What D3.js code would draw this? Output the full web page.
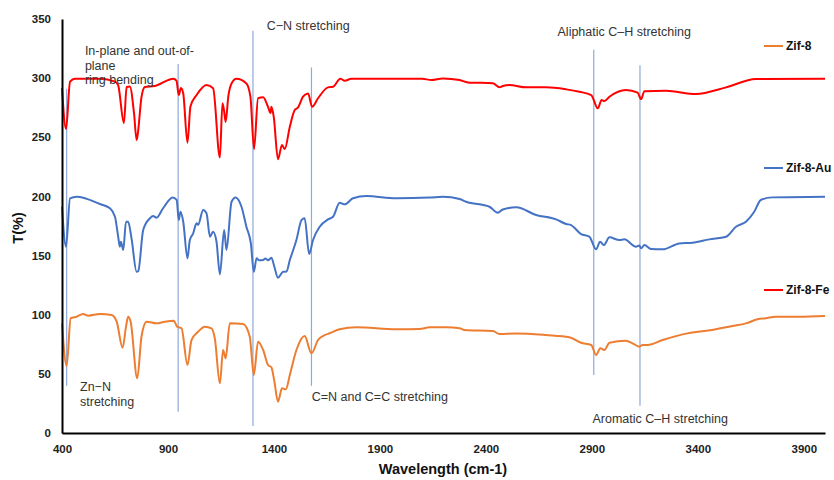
<!DOCTYPE html>
<html><head><meta charset="utf-8">
<script src="https://cdn.jsdelivr.net/npm/d3@7"></script>
<style>body{margin:0;background:#fff}svg{display:block}</style>
</head><body>
<svg id="chart" width="834" height="480"></svg>
<script>
// ---- data ----
const xTicks = [400, 900, 1400, 1900, 2400, 2900, 3400, 3900];
const yTicks = [0, 50, 100, 150, 200, 250, 300, 350];

const fe_wn = [400,419,438,461,579,650,665,692,705,720,740,752,757,775,791,838,925,940,951,961,972,992,1006,1035,1082,1113,1145,1157,1165,1172,1185,1200,1223,1270,1289,1306,1325,1349,1372,1384,1388,1399,1419,1438,1451,1475,1498,1514,1537,1561,1580,1608,1655,1679,1713,1734,1765,2100,2142,2197,2276,2315,2433,2464,2480,2511,2590,2684,2779,2841,2897,2928,2946,2959,2983,3061,3116,3132,3148,3250,3391,3533,3674,4000];
const fe_T  = [291.6,257,297,299.5,299.5,297,294,262,292.5,293,270,247.7,252,284,292.5,293.3,299.5,297.8,285.7,291.6,287,245.4,276,285.7,294.2,291.4,233,278.7,272,263,285,295.5,299.5,295.5,284.3,240,283,283.8,275.8,270.5,275.8,267.4,231.4,243.4,240,259,273,275.3,284.3,287,275.8,283,292.2,292.7,299.5,297.8,299.5,299.5,298.4,299.8,298.4,296.4,295.6,292.2,293.3,294.2,292.2,292.2,290.5,288.5,285.7,274.5,281.5,280.6,284.3,290,287.7,282.3,289,289.3,286.6,292.2,299.2,299.5];

const au_wn = [400,419,438,469,579,626,650,665,673,678,689,702,712,728,752,760,783,815,830,846,877,922,941,951,959,972,992,1003,1019,1035,1042,1066,1082,1098,1113,1129,1145,1165,1176,1200,1219,1247,1270,1291,1305,1318,1330,1349,1360,1372,1388,1401,1419,1443,1459,1475,1506,1530,1545,1566,1584,1616,1655,1679,1710,1734,1773,1836,1977,2134,2197,2276,2307,2417,2456,2480,2543,2637,2731,2779,2802,2849,2888,2920,2939,2956,2983,3030,3053,3108,3124,3132,3148,3179,3234,3313,3375,3454,3533,3580,3627,3666,3697,3752,4000];
const au_T  = [191.3,157.5,198.4,199.8,193.6,190,182.8,166,157.5,161.7,154.7,178.6,178.6,164.5,136.3,137,171.6,181.5,183.4,182,190,199.2,197,180,187,178.6,147.7,163,168.8,177.3,176,188.5,185.7,166,170.2,161.7,134.1,171.6,154.7,195.5,199.2,191.3,174.4,160.3,136.3,147.7,146,146.2,147.5,146,148.2,141.2,131.3,136.3,136.5,146.2,163.1,180,181.5,151.3,163,174.4,180.6,182.8,194.7,193.3,198.4,200.3,198.4,199,199.8,197.8,195.5,191.3,186.2,189,190.8,184.3,180.6,176.7,175.8,168.2,166,155.3,161.7,158.9,165.4,163.1,163.7,157.5,158.5,156.1,158.9,155.5,155.3,160.3,160.9,163.7,165.9,174.4,178.6,187,197,199.2,199.8];

const z8_wn = [400,422,441,469,500,524,579,634,658,686,702,712,724,755,775,799,846,885,928,943,964,992,1011,1042,1074,1105,1121,1145,1160,1172,1192,1254,1286,1305,1325,1349,1372,1388,1401,1419,1438,1456,1475,1506,1545,1577,1608,1640,1663,1710,1789,1977,2087,2134,2213,2276,2299,2433,2464,2543,2684,2794,2849,2897,2920,2940,2959,2983,3061,3092,3124,3140,3163,3234,3328,3485,3564,3627,3682,3721,3768,3878,4000];
const z8_T  = [92.7,56.6,97,98.3,100.6,99.2,100.6,99.7,94.1,72.1,89.9,98.3,94.1,46.2,81.4,94.1,92.7,94.1,94.9,89.9,88.5,57.5,78.6,85.6,89.9,88.5,80,42,70.2,63.1,92.7,92.1,81.4,49,77.2,70.2,57.5,55.5,44.8,26.5,37.8,36.9,49,70.2,82,67.4,78.6,82.8,84.3,87.7,89.3,87.7,87.9,89.3,89.3,88.5,87.1,86.2,83.7,84.2,82.8,80.9,76.3,74.4,65.9,71.6,70.2,76.3,78,75.8,73,74.5,74.4,78.6,83.4,87.7,90.4,92.7,96.1,97,98.3,98.3,98.9];

const legendNames = ["Zif-8", "Zif-8-Au", "Zif-8-Fe"];
const legendColors = ["#ED7D31", "#4472C4", "#FF0000"];

const markerWn = [422, 948, 1301, 1577, 2909, 3127];
const markerTop = [291, 312, 340, 309, 324, 311];     // T value at top of line
const markerBottom = [40, 18, 6, 40, 49, 23];          // T value at bottom of line

const notes = [
  {lines:["In-plane and out-of-","plane","ring bending"], wn:508, T:319.5},
  {lines:["C\u2212N stretching"], wn:1366, T:340.6},
  {lines:["Aliphatic C\u2013H stretching"], wn:2738, T:336},
  {lines:["Zn\u2212N","stretching"], wn:485, T:35.5},
  {lines:["C=N and C=C stretching"], wn:1578, T:27},
  {lines:["Aromatic C\u2013H stretching"], wn:2903, T:8.5}
];

// ---- chart ----
const svg = d3.select("#chart");
const x = d3.scaleLinear().domain([400, 4000]).range([62, 825]);
const y = d3.scaleLinear().domain([0, 350]).range([433, 19]);
const font = "'Liberation Sans', Arial, sans-serif";

// marker lines
svg.append("g").selectAll("line").data(markerWn).join("line")
  .attr("x1", d => x(d)).attr("x2", d => x(d))
  .attr("y1", (d,i) => y(markerTop[i])).attr("y2", (d,i) => y(markerBottom[i]))
  .attr("stroke", "#8EA9DB").attr("stroke-width", 1.2);

// series
const line = d3.line().x(d => x(d[0])).y(d => y(d[1])).curve(d3.curveMonotoneX);
const series = [
  {wn: fe_wn, T: fe_T, color: "#FF0000"},
  {wn: au_wn, T: au_T, color: "#4472C4"},
  {wn: z8_wn, T: z8_T, color: "#ED7D31"}
];
svg.append("g").selectAll("path").data(series).join("path")
  .attr("d", s => line(s.wn.map((w,i) => [w, s.T[i]])))
  .attr("fill", "none").attr("stroke", s => s.color)
  .attr("stroke-width", 2).attr("stroke-linejoin", "round");

// axes
const xAxis = svg.append("g").attr("transform", "translate(0,433)")
  .call(d3.axisBottom(x).tickValues(xTicks).tickSize(0).tickPadding(12).tickFormat(d3.format("d")));
const yAxis = svg.append("g").attr("transform", "translate(62,0)")
  .call(d3.axisLeft(y).tickValues(yTicks).tickSize(0).tickPadding(11));
[xAxis, yAxis].forEach(g => {
  g.select(".domain").attr("stroke", "#000").attr("stroke-width", 2);
  g.selectAll("text").attr("font-family", font).attr("font-weight", "bold")
    .attr("font-size", 11.5).attr("fill", "#222");
});

// axis titles
svg.append("text").attr("x", 443).attr("y", 474).attr("text-anchor", "middle")
  .attr("font-family", font).attr("font-weight", "bold").attr("font-size", 14.5)
  .attr("fill", "#111").text("Wavelength (cm-1)");
svg.append("text").attr("transform", "translate(23,228) rotate(-90)").attr("text-anchor", "middle")
  .attr("font-family", font).attr("font-weight", "bold").attr("font-size", 14.5)
  .attr("fill", "#111").text("T(%)");

// annotations
const ng = svg.append("g");
notes.forEach(n => {
  const t = ng.append("text").attr("font-family", font).attr("font-size", 12.5)
    .attr("fill", "#333");
  n.lines.forEach((l, i) => {
    t.append("tspan").attr("x", x(n.wn)).attr("y", y(n.T) + i * 14.5).text(l);
  });
});

// legend
const lg = svg.append("g");
const legendY = [46, 168, 290];
legendNames.forEach((name, i) => {
  lg.append("line").attr("x1", 764).attr("x2", 783)
    .attr("y1", legendY[i]).attr("y2", legendY[i])
    .attr("stroke", legendColors[i]).attr("stroke-width", 2);
  lg.append("text").attr("x", 786).attr("y", legendY[i] + 4)
    .attr("font-family", font).attr("font-weight", "bold").attr("font-size", 12)
    .attr("fill", "#111").text(name);
});
</script>
</body></html>
